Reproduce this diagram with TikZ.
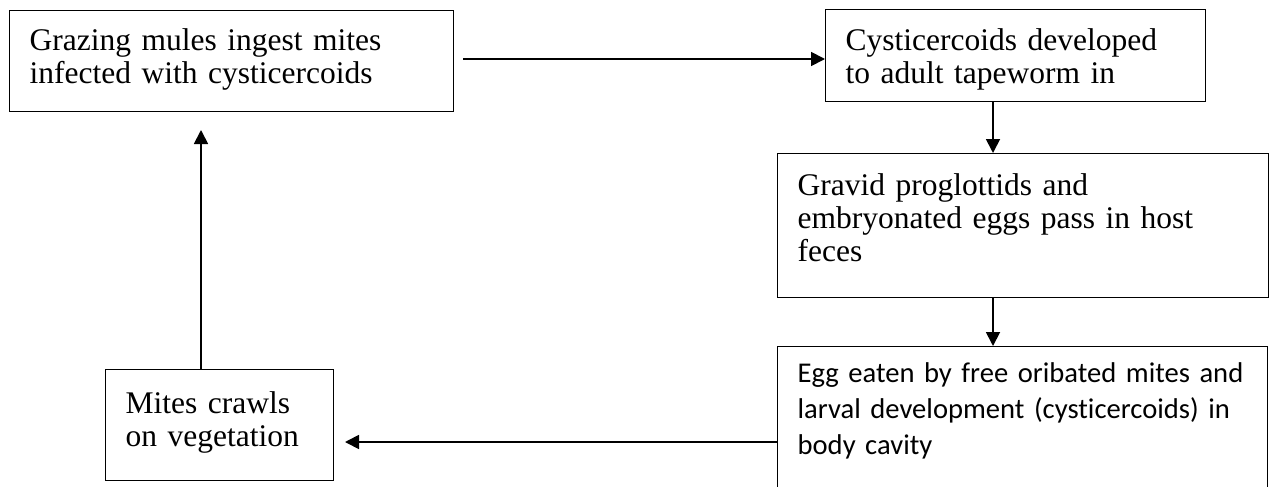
\documentclass[tikz,border=0pt]{standalone}
\usepackage{fontspec}
\setmainfont{Liberation Serif}
\newfontfamily\calibrifont[Ligatures=NoCommon]{Carlito}
\usepackage{tikz}
\usetikzlibrary{positioning, arrows.meta}

\begin{document}
\begin{tikzpicture}[x=1pt,y=-1pt]
					\tikzstyle{stepbox}=[draw=black,line width=1.3pt,inner xsep=20pt,inner ysep=0pt,anchor=north west,align=left,font=\fontsize{31.5}{33}\selectfont]
					\tikzstyle{flow}=[line width=1.8pt,-{Triangle[length=14pt,width=14pt]}]
					\useasboundingbox (0,0) rectangle (1274,487);
					\node[stepbox,text width=404pt,text height=40pt,text depth=61pt](graze) at (9,10){Grazing mules ingest mites\\infected with cysticercoids};
					\node[stepbox,text width=340pt,text height=41pt,text depth=51pt](adult) at (825,9){Cysticercoids developed\\to adult tapeworm in};
					\node[stepbox,text width=451pt,text height=42pt,text depth=102pt](gravid) at (777,153){Gravid proglottids and\\embryonated eggs pass in host\\feces};
					\node[stepbox,text width=450pt,text height=36pt,text depth=114pt,font=\calibrifont\fontsize{28.6}{36}\selectfont](eggs) at (777,346){Egg eaten by free oribated mites and\\larval development (cysticercoids) in\\body cavity};
					\node[stepbox,text width=188pt,text height=44pt,text depth=67pt](crawl) at (105,369){Mites crawls\\on vegetation};
					\coordinate (g1) at (463,59);
					\coordinate (d1) at (993,0);
					\coordinate (m1) at (345,442);
					\coordinate (u1) at (201,130);
					\path[flow]
						(g1) edge (g1 -| adult.west)
						(adult.south -| d1) edge (gravid.north -| d1)
						(gravid.south -| d1) edge (eggs.north -| d1)
						(m1 -| eggs.west) edge (m1)
						(u1 |- crawl.north) edge (u1);
				\end{tikzpicture}
\end{document}
